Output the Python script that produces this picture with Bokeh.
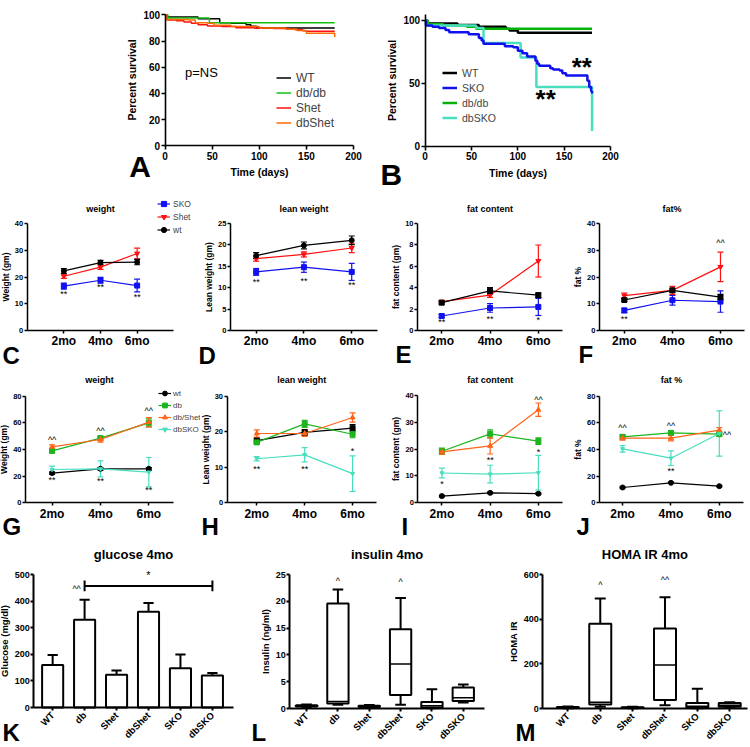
import numpy as np
from bokeh.plotting import figure
from bokeh.layouts import column, row
from bokeh.models import (Range1d, FixedTicker, Label, Legend, LegendItem,
                          Whisker, TeeHead, ColumnDataSource)
from bokeh.embed import file_html
from bokeh.resources import INLINE

# ======================= DATA =======================
# A : Kaplan-Meier survival (days, % survival)
A_WT_days = [0, 2, 35, 58, 70, 86, 91, 97, 180]
A_WT_surv = [100, 98.3, 97, 94, 93.5, 92.5, 91.3, 90, 90]
A_db_days = [0, 3, 47, 180]
A_db_surv = [100, 97.5, 94, 94]
A_Shet_days = [0, 2, 12, 20, 28, 35, 45, 60, 75, 95, 115, 130, 138, 146, 150, 180]
A_Shet_surv = [100, 96, 95.5, 94.5, 93.5, 92.5, 91.5, 91, 90.2, 89.8, 89.5, 89, 88.5, 87.8, 87.5, 87.5]
A_dbShet_days = [0, 2, 25, 32, 45, 52, 70, 100, 128, 140, 150, 178, 180]
A_dbShet_surv = [100, 96.5, 96, 94, 93.5, 92, 91, 90, 89, 88, 86, 86, 83]

# B : Kaplan-Meier survival
B_WT_days = [0, 2, 35, 58, 87, 91, 100, 180]
B_WT_surv = [100, 97.6, 96.5, 95, 93.4, 92, 90.2, 90.2]
B_SKO_days = [0, 1, 8, 15, 22, 26, 47, 58, 61, 63, 86, 95, 100, 105, 110, 119, 121, 123,
              135, 138, 145, 148, 152, 175, 177, 179, 180]
B_SKO_surv = [100, 96, 95, 94, 92.5, 90.7, 89, 86, 84, 81.4, 79.5, 78.8, 76, 74, 71.4, 68, 65.5, 64,
              62, 61, 60.2, 58, 56.2, 52, 47, 44, 42]
B_db_days = [0, 3, 20, 45, 55, 180]
B_db_surv = [100, 97, 96, 95, 93.5, 93.5]
B_dbSKO_days = [0, 1, 55, 63, 103, 120, 180]
B_dbSKO_surv = [100, 96, 94, 82, 70.5, 47, 12]
B_star_days = [169, 130]
B_star_surv = [63, 37.7]

# time points
months = [1, 2, 3]
month_labels = ["2mo", "4mo", "6mo"]

# C : weight (SKO / Shet / wt)
C_wt = [22.3, 25.4, 25.6];   C_wt_err = [0.9, 0.8, 1.0]
C_shet = [20.3, 23.7, 28.8]; C_shet_err = [0.8, 0.8, 2.0]
C_sko = [16.6, 18.8, 16.8];  C_sko_err = [1.1, 1.1, 2.4]
C_star_y = [13.7, 16.1, 12.7]; C_star_txt = ["**", "**", "**"]

# D : lean weight
D_wt = [17.5, 19.9, 21.1];   D_wt_err = [0.7, 0.8, 1.0]
D_shet = [16.8, 17.8, 19.3]; D_shet_err = [0.6, 0.6, 1.1]
D_sko = [13.7, 14.8, 13.7];  D_sko_err = [0.8, 1.2, 2.0]
D_star_y = [11.4, 11.6, 10.6]; D_star_txt = ["**", "**", "**"]

# E : fat content
E_wt = [2.6, 3.7, 3.3];   E_wt_err = [0.15, 0.3, 0.2]
E_shet = [2.7, 3.3, 6.5]; E_shet_err = [0.1, 0.2, 1.5]
E_sko = [1.35, 2.1, 2.2]; E_sko_err = [0.15, 0.4, 0.8]
E_star_y = [0.75, 1.1, 1.0]; E_star_txt = ["**", "**", "*"]

# F : fat%
F_wt = [11.4, 15.0, 12.5];   F_wt_err = [0.5, 0.8, 1.0]
F_shet = [13.0, 15.0, 23.8]; F_shet_err = [1.0, 1.5, 5.5]
F_sko = [7.5, 11.3, 10.8];   F_sko_err = [0.8, 1.8, 4.0]
F_star_x = [1, 3]; F_star_y = [4.2, 32.8]; F_star_txt = ["**", "^^"]

# G : weight (wt / db / db/Shet / dbSKO)
G_wt = [22.3, 25.5, 25.5];     G_wt_err = [0.8, 1.0, 1.0]
G_db = [39.0, 48.5, 60.0];     G_db_err = [1.5, 1.5, 3.0]
G_dbshet = [42.0, 47.5, 60.5]; G_dbshet_err = [1.5, 2.0, 3.5]
G_dbsko = [25.0, 25.5, 23.0];  G_dbsko_err = [2.5, 6.0, 11.0]
G_star_x = [1, 2, 3, 1, 2, 3]
G_star_y = [46.8, 53.8, 68.8, 16.8, 16.3, 9.3]
G_star_txt = ["^^", "^^", "^^", "**", "**", "**"]

# H : lean weight
H_wt = [17.5, 19.8, 21.0];     H_wt_err = [0.7, 0.8, 1.0]
H_db = [17.0, 22.2, 19.3];     H_db_err = [0.5, 1.0, 1.0]
H_dbshet = [19.5, 19.5, 24.0]; H_dbshet_err = [1.0, 0.8, 1.3]
H_dbsko = [12.4, 13.5, 8.2];   H_dbsko_err = [0.6, 2.0, 5.0]
H_star_x = [1, 2, 3]; H_star_y = [9.4, 9.6, 14.5]; H_star_txt = ["**", "**", "*"]

# I : fat content
I_wt = [2.5, 3.7, 3.4];        I_wt_err = [0.3, 0.3, 0.3]
I_db = [19.2, 25.7, 23.0];     I_db_err = [1.2, 1.5, 1.2]
I_dbshet = [19.0, 21.2, 34.7]; I_dbshet_err = [1.0, 3.0, 2.5]
I_dbsko = [11.1, 10.7, 11.2];  I_dbsko_err = [1.8, 3.3, 6.5]
I_star_x = [1, 2, 3, 3]; I_star_y = [7.1, 15.8, 18.9, 38.5]; I_star_txt = ["*", "**", "*", "^^"]

# J : fat %
J_wt = [11.5, 15.0, 12.5];     J_wt_err = [0.5, 0.5, 0.5]
J_db = [49.5, 52.5, 51.5];     J_db_err = [1.5, 1.5, 1.5]
J_dbshet = [48.5, 48.5, 54.5]; J_dbshet_err = [1.5, 2.0, 2.0]
J_dbsko = [40.5, 33.5, 52.0];  J_dbsko_err = [2.5, 5.5, 17.0]
J_star_x = [1, 2, 3.16, 2]; J_star_y = [56, 58, 51, 23.75]; J_star_txt = ["^^", "^^", "^^", "**"]

# K / L / M : 4-month metabolic measures
groups6 = ["WT", "db", "Shet", "dbShet", "SKO", "dbSKO"]
K_glucose = [160, 330, 123, 360, 148, 120]
K_glucose_err = [37, 75, 16, 33, 51, 10]
K_bracket = [2, 6, 457]
K_star_x = [4, 1.75]; K_star_y = [500, 447]; K_star_txt = ["*", "^^"]

L_min = [0.2, 0.7, 0.2, 0.7, 0.05, 1.1]
L_q1 = [0.35, 0.95, 0.3, 2.5, 0.2, 1.4]
L_med = [0.5, 1.3, 0.4, 8.3, 0.5, 2.0]
L_q3 = [0.6, 19.6, 0.5, 14.8, 1.2, 3.9]
L_max = [0.75, 22.2, 0.65, 20.6, 3.6, 4.5]
L_star_x = [2, 4]; L_star_y = [23.7, 23.6]; L_star_txt = ["^", "^"]

M_min = [1, 8, 1, 15, 1, 5]
M_q1 = [3, 18, 2, 38, 3, 8]
M_med = [5, 28, 4, 195, 10, 15]
M_q3 = [7, 380, 6, 358, 25, 25]
M_max = [9, 493, 8, 498, 88, 28]
M_star_x = [2, 4]; M_star_y = [555, 575]; M_star_txt = ["^", "^^"]

# ======================= STYLE / HELPERS =======================
KS = 0.998
FONT = "Liberation Sans"
BLACK = "#000000"
BLUE = "#1010F0"
RED = "#FF1010"
GREEN = "#1DB41D"
ORANGE = "#FF6418"
TURQ = "#48DEC0"


def R(v):
    return int(round(v * KS))


def fpx(v):
    return f"{v * KS:.1f}px"


class Panel:
    """A figure whose canvas is the whole cell; the axes are pinned at the data origin."""

    def __init__(self, cell, frame, xr, yr):
        self.cell, self.frame, self.xr, self.yr = cell, frame, xr, yr
        cx0, cy0, cx1, cy1 = cell
        fx0, fy0, fx1, fy1 = frame
        self.sx = (xr[1] - xr[0]) / (fx1 - fx0)
        self.sy = (yr[1] - yr[0]) / (fy1 - fy0)
        full_x = (xr[0] - (fx0 - cx0) * self.sx, xr[1] + (cx1 - fx1) * self.sx)
        full_y = (yr[0] - (cy1 - fy1) * self.sy, yr[1] + (fy0 - cy0) * self.sy)
        p = figure(width=R(cx1) - R(cx0), height=R(cy1) - R(cy0),
                   x_range=Range1d(*full_x), y_range=Range1d(*full_y),
                   output_backend="svg", toolbar_location=None,
                   min_border_left=0, min_border_right=0, min_border_top=0, min_border_bottom=0)
        p.outline_line_color = None
        p.xgrid.visible = False
        p.ygrid.visible = False
        p.background_fill_color = "white"
        p.border_fill_color = "white"
        self.p = p

    def d(self, X, Y):
        fx0, fy0, fx1, fy1 = self.frame
        return self.xr[0] + (X - fx0) * self.sx, self.yr[0] + (fy1 - Y) * self.sy

    def text_px(self, X, Y, text, size, bold=True, align="left", baseline="middle", color="black"):
        x, y = self.d(X, Y)
        self.text_data(x, y, text, size, bold, align, baseline, color)

    def text_data(self, x, y, text, size, bold=True, align="center", baseline="middle", color="black"):
        self.p.add_layout(Label(x=x, y=y, text=text, text_font=FONT, text_font_size=fpx(size),
                                text_font_style="bold" if bold else "normal",
                                text_align=align, text_baseline=baseline, text_color=color))

    def legend(self, items, X_left, Y_bottom, item_h, glyph_w, standoff, fsize):
        cx0, cy0, cx1, cy1 = self.cell
        leg = Legend(items=items, location=(R(X_left) - R(cx0), R(cy1) - R(Y_bottom)),
                     glyph_width=R(glyph_w), glyph_height=R(item_h), label_height=R(item_h),
                     label_standoff=R(standoff), spacing=0, padding=0, margin=0,
                     border_line_color=None, background_fill_alpha=0,
                     label_text_font=FONT, label_text_font_size=fpx(fsize))
        self.p.add_layout(leg)


def style_axes(pn, xticks, yticks, xover=None, xlabel=None, ylabel=None, ytick_fs=7.5,
               xtick_fs=12, label_fs=8.5, lw=1.5, tick_out=3, xorient=None, xstand=1, lstand=1):
    p = pn.p
    xa, ya = p.xaxis[0], p.yaxis[0]
    xa.fixed_location = pn.yr[0]
    ya.fixed_location = pn.xr[0]
    xa.bounds = tuple(pn.xr)
    ya.bounds = tuple(pn.yr)
    xa.ticker = FixedTicker(ticks=xticks)
    ya.ticker = FixedTicker(ticks=yticks)
    if xover is not None:
        xa.major_label_overrides = xover
    for ax in (xa, ya):
        ax.axis_line_width = lw
        ax.axis_line_color = "black"
        ax.major_tick_line_width = lw
        ax.major_tick_line_color = "black"
        ax.major_tick_out = tick_out
        ax.major_tick_in = 0
        ax.minor_tick_line_color = None
        ax.major_label_text_font = FONT
        ax.major_label_text_font_style = "bold"
        ax.major_label_text_color = "black"
        ax.axis_label_text_font = FONT
        ax.axis_label_text_font_style = "bold"
        ax.axis_label_text_color = "black"
        ax.axis_label_text_font_size = fpx(label_fs)
        ax.major_label_standoff = 1
        ax.axis_label_standoff = lstand
    xa.major_label_standoff = xstand
    ya.major_label_text_font_size = fpx(ytick_fs)
    xa.major_label_text_font_size = fpx(xtick_fs)
    if ylabel:
        ya.axis_label = ylabel
    if xlabel:
        xa.axis_label = xlabel
    if xorient is not None:
        xa.major_label_orientation = xorient


def series(pn, y, err, color, marker, size, lw=1.2):
    src = ColumnDataSource(dict(x=months, y=y,
                                lo=[a - b for a, b in zip(y, err)],
                                hi=[a + b for a, b in zip(y, err)]))
    pn.p.add_layout(Whisker(source=src, base="x", upper="hi", lower="lo", dimension="height",
                            line_color=color, line_width=lw,
                            upper_head=TeeHead(size=R(6), line_color=color, line_width=lw),
                            lower_head=TeeHead(size=R(6), line_color=color, line_width=lw)))
    lr = pn.p.line("x", "y", source=src, line_color=color, line_width=lw)
    sr = pn.p.scatter("x", "y", source=src, marker=marker, size=R(size),
                      fill_color=color, line_color=color)
    return lr, sr


def month_panel(cell, frame, xr, yr, yticks, ylabel, title, title_y, ser, star_x, star_y, star_txt):
    pn = Panel(cell, frame, xr, yr)
    style_axes(pn, months, yticks, xover=dict(zip(months, month_labels)), ylabel=ylabel)
    rends = []
    for (lab, y, err, col, mk, sz) in ser:
        rends.append((lab, series(pn, y, err, col, mk, sz)))
    for x, y, t in zip(star_x, star_y, star_txt):
        pn.text_data(x, y, t, 9, bold=False)
    fx0, fy0, fx1, fy1 = frame
    pn.text_px((fx0 + fx1) / 2, title_y, title, 9, align="center")
    return pn, rends


# ======================= ROW 1 : survival =======================
pA = Panel((0, 0, 378, 192), (165, 14.3, 354, 145.3), (0, 200), (0, 100))
style_axes(pA, [0, 50, 100, 150, 200], [0, 20, 40, 60, 80, 100], xlabel="Time (days)",
           ylabel="Percent survival", ytick_fs=10, xtick_fs=10, label_fs=10.5, lw=1.6, tick_out=4,
           xstand=2, lstand=3)
ra1 = pA.p.step(A_WT_days, A_WT_surv, mode="after", line_color=BLACK, line_width=1.5)
ra2 = pA.p.step(A_db_days, A_db_surv, mode="after", line_color="#12C012", line_width=1.5)
ra3 = pA.p.step(A_Shet_days, A_Shet_surv, mode="after", line_color=RED, line_width=1.5)
ra4 = pA.p.step(A_dbShet_days, A_dbShet_surv, mode="after", line_color="#FF6A00", line_width=1.5)
pA.legend([LegendItem(label="WT", renderers=[ra1]), LegendItem(label="db/db", renderers=[ra2]),
           LegendItem(label="Shet", renderers=[ra3]), LegendItem(label="dbShet", renderers=[ra4])],
          277, 130.3, 14.7, 15, 5, 12)
pA.text_px(185, 72, "p=NS", 13, bold=False)
pA.text_px(129, 166, "A", 30)

pB = Panel((378, 0, 750, 192), (425.7, 13.7, 611.7, 145.7), (0, 200), (0, 105))
style_axes(pB, [0, 50, 100, 150, 200], [0, 50, 100], xlabel="Time (days)",
           ylabel="Percent survival", ytick_fs=10, xtick_fs=10, label_fs=10.5, lw=1.6, tick_out=4,
           xstand=2, lstand=3)
rb1 = pB.p.step(B_WT_days, B_WT_surv, mode="after", line_color=BLACK, line_width=2.5)
rb3 = pB.p.step(B_db_days, B_db_surv, mode="after", line_color="#0AB00A", line_width=2.5)
rb4 = pB.p.step(B_dbSKO_days, B_dbSKO_surv, mode="after", line_color=TURQ, line_width=2.5)
rb2 = pB.p.step(B_SKO_days, B_SKO_surv, mode="after", line_color=BLUE, line_width=2.5)
pB.legend([LegendItem(label="WT", renderers=[rb1]), LegendItem(label="SKO", renderers=[rb2]),
           LegendItem(label="db/db", renderers=[rb3]), LegendItem(label="dbSKO", renderers=[rb4])],
          443, 125.7, 15.3, 15, 5, 10.5)
for x, y in zip(B_star_days, B_star_surv):
    pB.text_data(x, y, "**", 26)
pB.text_px(381, 174, "B", 30)

# ======================= ROW 2 =======================
FR2 = (223.3, 330.7)
pC, rC = month_panel((0, 192, 196, 370), (26.7, FR2[0], 173.3, FR2[1]), (0, 4), (0, 40),
                     [0, 10, 20, 30, 40], "Weight (gm)", "weight", 209,
                     [("SKO", C_sko, C_sko_err, BLUE, "square", 5),
                      ("Shet", C_shet, C_shet_err, RED, "inverted_triangle", 5),
                      ("wt", C_wt, C_wt_err, BLACK, "circle", 5)],
                     months, C_star_y, C_star_txt)
pC.legend([LegendItem(label=lab, renderers=list(r)) for lab, r in rC], 157, 236.5, 13, 13, 3, 8.5)
pC.text_px(2, 356, "C", 24)

pD, _ = month_panel((196, 192, 385, 370), (230, FR2[0], 378, FR2[1]), (0.46, 3.54), (0, 25),
                    [0, 5, 10, 15, 20, 25], "Lean weight (gm)", "lean weight", 209,
                    [("SKO", D_sko, D_sko_err, BLUE, "square", 5),
                     ("Shet", D_shet, D_shet_err, RED, "inverted_triangle", 5),
                     ("wt", D_wt, D_wt_err, BLACK, "circle", 5)],
                    months, D_star_y, D_star_txt)
pD.text_px(198, 355.5, "D", 24)

pE, _ = month_panel((385, 192, 570, 370), (418, FR2[0], 563, FR2[1]), (0.5, 3.5), (0, 10),
                    [0, 2, 4, 6, 8, 10], "fat content (gm)", "fat content", 209,
                    [("SKO", E_sko, E_sko_err, BLUE, "square", 5),
                     ("Shet", E_shet, E_shet_err, RED, "inverted_triangle", 5),
                     ("wt", E_wt, E_wt_err, BLACK, "square", 5)],
                    months, E_star_y, E_star_txt)
pE.text_px(396, 354.5, "E", 24)

pF, _ = month_panel((570, 192, 750, 370), (600, FR2[0], 746, FR2[1]), (0.48, 3.5), (0, 40),
                    [0, 10, 20, 30, 40], "fat %", "fat%", 209,
                    [("SKO", F_sko, F_sko_err, BLUE, "square", 5),
                     ("Shet", F_shet, F_shet_err, RED, "inverted_triangle", 5),
                     ("wt", F_wt, F_wt_err, BLACK, "square", 5)],
                    F_star_x, F_star_y, F_star_txt)
pF.text_px(579, 354.5, "F", 24)

# ======================= ROW 3 =======================
FR3 = (396.7, 503.3)
pG, rG = month_panel((0, 370, 200, 542), (25, FR3[0], 173, FR3[1]), (0.45, 3.51), (0, 80),
                     [0, 20, 40, 60, 80], "Weight (gm)", "weight", 380,
                     [("wt", G_wt, G_wt_err, BLACK, "circle", 5),
                      ("db", G_db, G_db_err, GREEN, "square", 5),
                      ("db/Shet", G_dbshet, G_dbshet_err, ORANGE, "triangle", 5),
                      ("dbSKO", G_dbsko, G_dbsko_err, TURQ, "inverted_triangle", 4)],
                     G_star_x, G_star_y, G_star_txt)
pG.legend([LegendItem(label=lab, renderers=list(r)) for lab, r in rG], 158, 436, 11.7, 13, 2, 8)
pG.text_px(2, 527, "G", 24)

pH, _ = month_panel((200, 370, 385, 542), (226.7, FR3[0], 377, FR3[1]), (0.38, 3.5), (0, 30),
                    [0, 10, 20, 30], "Lean weight (gm)", "lean weight", 380,
                    [("wt", H_wt, H_wt_err, BLACK, "square", 5),
                     ("db", H_db, H_db_err, GREEN, "square", 5),
                     ("db/Shet", H_dbshet, H_dbshet_err, ORANGE, "triangle", 5),
                     ("dbSKO", H_dbsko, H_dbsko_err, TURQ, "inverted_triangle", 4)],
                    H_star_x, H_star_y, H_star_txt)
pH.text_px(201, 527, "H", 24)

pI, _ = month_panel((385, 370, 570, 542), (418.3, 396, 563, FR3[1]), (0.5, 3.5), (0, 40),
                    [0, 10, 20, 30, 40], "fat content (gm)", "fat content", 380,
                    [("wt", I_wt, I_wt_err, BLACK, "circle", 5),
                     ("db", I_db, I_db_err, GREEN, "square", 5),
                     ("db/Shet", I_dbshet, I_dbshet_err, ORANGE, "triangle", 5),
                     ("dbSKO", I_dbsko, I_dbsko_err, TURQ, "inverted_triangle", 4)],
                    I_star_x, I_star_y, I_star_txt)
pI.text_px(402, 527, "I", 24)

pJ, _ = month_panel((570, 370, 750, 542), (600, FR3[0], 745, FR3[1]), (0.52, 3.5), (0, 80),
                    [0, 20, 40, 60, 80], "fat %", "fat %", 380,
                    [("wt", J_wt, J_wt_err, BLACK, "circle", 5),
                     ("db", J_db, J_db_err, GREEN, "square", 5),
                     ("db/Shet", J_dbshet, J_dbshet_err, ORANGE, "triangle", 5),
                     ("dbSKO", J_dbsko, J_dbsko_err, TURQ, "inverted_triangle", 4)],
                    J_star_x, J_star_y, J_star_txt)
pJ.text_px(577, 527, "J", 24)

# ======================= ROW 4 =======================
idx = np.arange(1, 7)
cat_over = {int(i): g for i, g in zip(idx, groups6)}

pK = Panel((0, 542, 250, 747), (33.3, 575, 233, 708), (0.41, 6.66), (0, 500))
style_axes(pK, list(idx), [0, 100, 200, 300, 400, 500], xover=cat_over, ylabel="Glucose (mg/dl)",
           ytick_fs=9, xtick_fs=9.5, label_fs=9.5, lw=2, tick_out=3, xorient=np.pi / 4, xstand=3)
gl = np.array(K_glucose, dtype=float)
ge = np.array(K_glucose_err, dtype=float)
pK.p.segment(x0=idx, y0=gl, x1=idx, y1=gl + ge, line_color="black", line_width=2)
pK.p.segment(x0=idx - 0.16, y0=gl + ge, x1=idx + 0.16, y1=gl + ge, line_color="black", line_width=2)
pK.p.vbar(x=idx, top=gl, width=0.66, fill_color="white", line_color="black", line_width=2)
bx0, bx1, by = K_bracket
pK.p.segment(x0=[bx0, bx0, bx1], y0=[by, by - 20, by - 20], x1=[bx1, bx0, bx1], y1=[by, by + 20, by + 20],
             line_color="black", line_width=2)
for x, y, t in zip(K_star_x, K_star_y, K_star_txt):
    pK.text_data(x, y, t, 11 if t == "*" else 9, bold=False)
pK.text_px(133, 555, "glucose 4mo", 13, align="center")
pK.text_px(2, 733, "K", 24)


def box_panel(cell, frame, xr, yr, yticks, ylabel, title, mins, q1, med, q3, mx, sx, sy, st, letter, lx):
    pn = Panel(cell, frame, xr, yr)
    style_axes(pn, list(idx), yticks, xover=cat_over, ylabel=ylabel, ytick_fs=9, xtick_fs=9.5,
               label_fs=9.5, lw=2, tick_out=3, xorient=np.pi / 4, xstand=3)
    mn, a, m, b, mxx = (np.array(v, dtype=float) for v in (mins, q1, med, q3, mx))
    pn.p.segment(x0=idx, y0=b, x1=idx, y1=mxx, line_color="black", line_width=2)
    pn.p.segment(x0=idx, y0=mn, x1=idx, y1=a, line_color="black", line_width=2)
    pn.p.segment(x0=idx - 0.17, y0=mxx, x1=idx + 0.17, y1=mxx, line_color="black", line_width=2)
    pn.p.segment(x0=idx - 0.17, y0=mn, x1=idx + 0.17, y1=mn, line_color="black", line_width=2)
    pn.p.vbar(x=idx, bottom=a, top=b, width=0.68, fill_color="white", line_color="black", line_width=2)
    pn.p.segment(x0=idx - 0.34, y0=m, x1=idx + 0.34, y1=m, line_color="black", line_width=1.5)
    for x, y, t in zip(sx, sy, st):
        pn.text_data(x, y, t, 9, bold=False)
    fx0, fy0, fx1, fy1 = frame
    pn.text_px((fx0 + fx1) / 2, 555, title, 13, align="center")
    pn.text_px(lx, 733, letter, 24)
    return pn


pL = box_panel((250, 542, 508, 747), (289.3, 575, 485, 709), (0.46, 6.68), (0, 25),
               [0, 5, 10, 15, 20, 25], "Insulin (ng/ml)", "insulin 4mo",
               L_min, L_q1, L_med, L_q3, L_max, L_star_x, L_star_y, L_star_txt, "L", 251)
pM = box_panel((508, 542, 750, 747), (543.3, 575, 749, 709), (0.22, 6.55), (0, 600),
               [0, 200, 400, 600], "HOMA IR", "HOMA IR 4mo",
               M_min, M_q1, M_med, M_q3, M_max, M_star_x, M_star_y, M_star_txt, "M", 516)

layout = column(row(pA.p, pB.p),
                row(pC.p, pD.p, pE.p, pF.p),
                row(pG.p, pH.p, pI.p, pJ.p),
                row(pK.p, pL.p, pM.p))

open("out.html", "w").write(file_html(layout, INLINE))
